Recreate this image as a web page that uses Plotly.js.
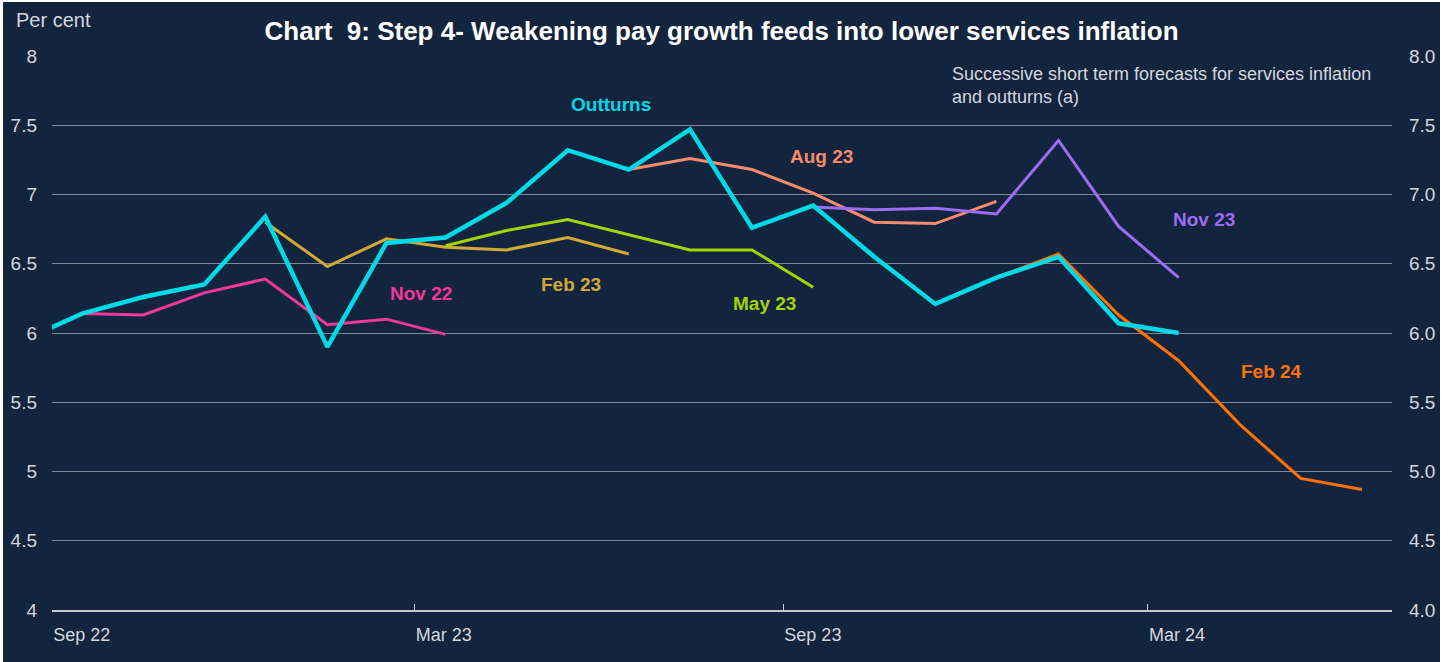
<!DOCTYPE html>
<html>
<head>
<meta charset="utf-8">
<script src="https://cdn.plot.ly/plotly-3.0.1.min.js"></script>
<style>
  html, body { margin: 0; padding: 0; background: #ffffff; }
  #chart { position: absolute; left: 3px; top: 2px; width: 1437px; height: 660px; }
</style>
</head>
<body>
<div id="chart"></div>
<script>
// months, Aug 22 .. Jun 24 (plotted mid-month)
const months = ['2022-08', '2022-09', '2022-10', '2022-11', '2022-12',
    '2023-01', '2023-02', '2023-03', '2023-04', '2023-05', '2023-06',
    '2023-07', '2023-08', '2023-09', '2023-10', '2023-11', '2023-12',
    '2024-01', '2024-02', '2024-03', '2024-04', '2024-05', '2024-06'];

// outturns, Aug 22 .. Mar 24
const outturns = [5.94, 6.14, 6.26, 6.35, 6.84, 5.90, 6.65, 6.69, 6.94, 7.32,
    7.18, 7.47, 6.76, 6.92, 6.55, 6.21, 6.40, 6.55, 6.07, 6.00];

// forecasts: first month index into months, then values
const nov22Start = 1;
const nov22 = [6.14, 6.13, 6.29, 6.39, 6.06, 6.10, 5.99];
const feb23Start = 4;
const feb23 = [6.80, 6.48, 6.68, 6.62, 6.60, 6.69, 6.57];
const may23Start = 7;
const may23 = [6.63, 6.74, 6.82, 6.71, 6.60, 6.60, 6.33];
const aug23Start = 10;
const aug23 = [7.18, 7.26, 7.18, 7.01, 6.80, 6.79, 6.95];
const nov23Start = 13;
const nov23 = [6.91, 6.89, 6.90, 6.86, 7.39, 6.77, 6.40];
const feb24Start = 16;
const feb24 = [6.40, 6.57, 6.13, 5.80, 5.34, 4.95, 4.87];

const tickMonths = ['2022-09-01', '2023-03-01', '2023-09-01', '2024-03-01'];
const tickLabels = ['Sep 22', 'Mar 23', 'Sep 23', 'Mar 24'];

const font = '"Liberation Sans", Arial, sans-serif';
const bg = '#13243e';
const labelGrey = '#d3d7dd';

function line(name, start, values, color, width, axis) {
    return {
        type: 'scatter',
        mode: 'lines',
        name: name,
        x: months.slice(start, start + values.length),
        y: values,
        xperiod: 'M1',
        xperiodalignment: 'middle',
        yaxis: axis || 'y',
        line: { color: color, width: width },
        hoverinfo: 'skip'
    };
}

const traces = [
    line('Nov 22', nov22Start, nov22, '#f2389a', 3),
    line('Feb 23', feb23Start, feb23, '#d2a935', 3),
    line('May 23', may23Start, may23, '#a2d400', 3),
    line('Aug 23', aug23Start, aug23, '#f78c6c', 3),
    line('Nov 23', nov23Start, nov23, '#9c6cf2', 3),
    line('Feb 24', feb24Start, feb24, '#ff7200', 3),
    line('Outturns', 0, outturns, '#00d9e6', 4.5),
    // carries the right-hand axis
    line('', 0, outturns, 'rgba(0,0,0,0)', 0, 'y2')
];

function label(text, x, y, color) {
    return {
        text: '<b>' + text + '</b>', xref: 'paper', yref: 'paper', x: x, y: y,
        xanchor: 'center', yanchor: 'middle',
        showarrow: false, font: { family: font, size: 19, color: color }
    };
}

const layout = {
    width: 1437,
    height: 660,
    paper_bgcolor: bg,
    plot_bgcolor: bg,
    showlegend: false,
    margin: { l: 49, r: 48, t: 54, b: 52 },
    font: { family: font, color: labelGrey },
    title: {
        text: '<b>Chart  9: Step 4- Weakening pay growth feeds into lower services inflation</b>',
        xref: 'container', x: 0.5, xanchor: 'center',
        yref: 'container', y: 0.956, yanchor: 'middle',
        font: { family: font, size: 26, color: '#ffffff' }
    },
    xaxis: {
        type: 'date',
        range: ['2022-09-01', '2024-07-01'],
        tickmode: 'array',
        tickvals: tickMonths,
        ticktext: tickLabels,
        ticks: 'inside',
        ticklen: 6,
        tickcolor: '#c4c9d1',
        ticklabelposition: 'outside right',
        ticklabelstandoff: 8,
        tickfont: { family: font, size: 18, color: labelGrey },
        showgrid: false,
        showline: true,
        linecolor: '#c4c9d1',
        linewidth: 1.5,
        zeroline: false
    },
    yaxis: {
        range: [4, 8],
        dtick: 0.5,
        ticks: '',
        ticklabelstandoff: 14,
        tickfont: { family: font, size: 19, color: labelGrey },
        gridcolor: '#7d8797',
        gridwidth: 1,
        zeroline: false,
        showline: false
    },
    yaxis2: {
        range: [4, 8],
        dtick: 0.5,
        tickformat: '.1f',
        overlaying: 'y',
        side: 'right',
        ticks: '',
        ticklabelstandoff: 16,
        tickfont: { family: font, size: 19, color: labelGrey },
        showgrid: false,
        zeroline: false,
        showline: false
    },
    annotations: [
        {
            text: 'Per cent', xref: 'paper', yref: 'paper', x: -0.0285, y: 1.065,
            xanchor: 'left', yanchor: 'middle', showarrow: false,
            font: { family: font, size: 20, color: labelGrey }
        },
        {
            text: 'Successive short term forecasts for services inflation<br>and outturns (a)',
            xref: 'paper', yref: 'paper', x: 0.6705, y: 0.99,
            xanchor: 'left', yanchor: 'top', align: 'left', showarrow: false,
            font: { family: font, size: 18, color: labelGrey }
        },
        label('Outturns', 0.417, 0.912, '#00d9e6'),
        label('Aug 23', 0.574, 0.818, '#f78c6c'),
        label('Nov 22', 0.275, 0.572, '#f2389a'),
        label('Feb 23', 0.387, 0.587, '#d2a935'),
        label('May 23', 0.532, 0.554, '#a2d400'),
        label('Nov 23', 0.860, 0.704, '#9c6cf2'),
        label('Feb 24', 0.910, 0.430, '#ff7200')
    ]
};

Plotly.newPlot('chart', traces, layout, { staticPlot: true, displayModeBar: false });
</script>
</body>
</html>
